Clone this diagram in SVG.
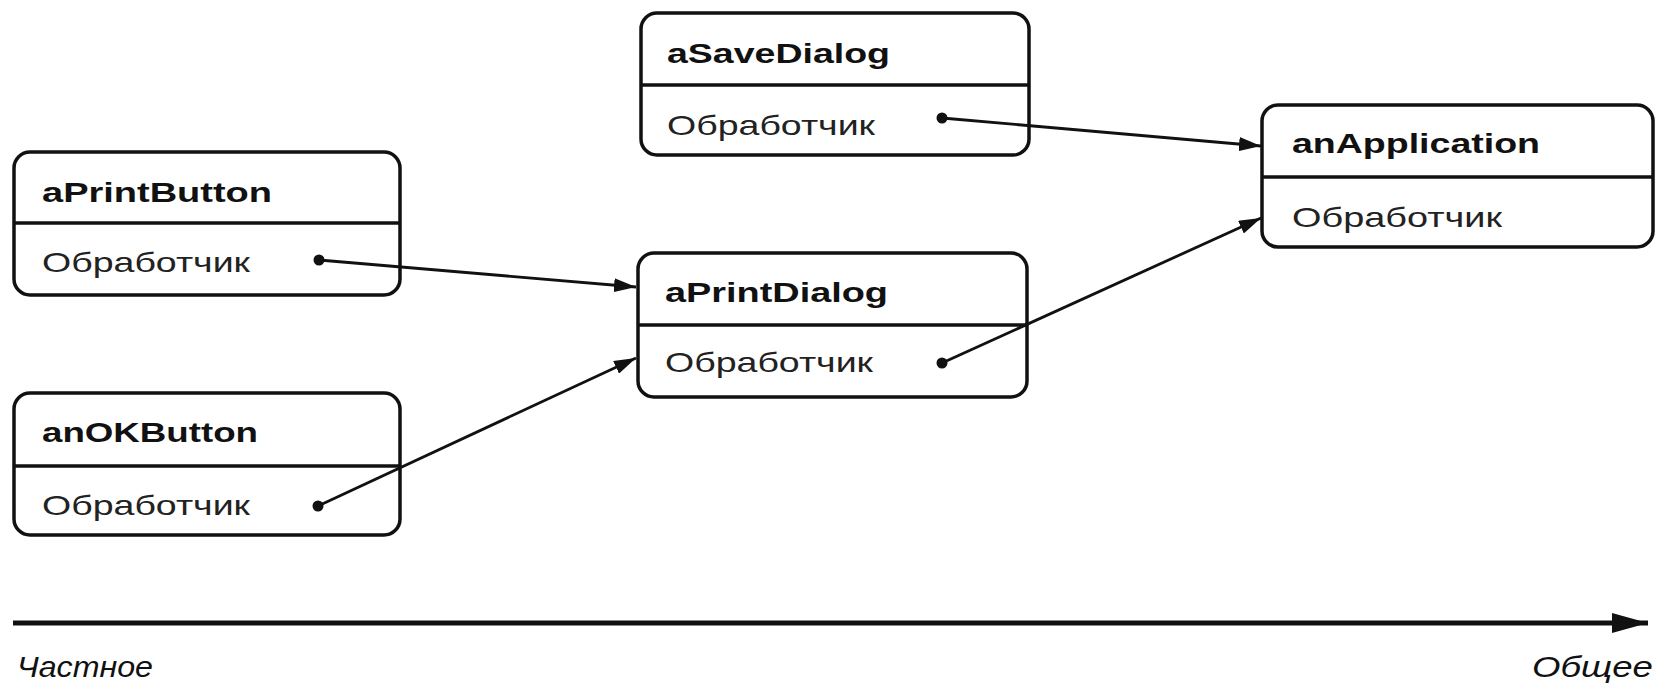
<svg xmlns="http://www.w3.org/2000/svg" width="1671" height="686" viewBox="0 0 1671 686">
<style>
.box{fill:#fff;stroke:#111;stroke-width:3.5}
.div{stroke:#111;stroke-width:3.5}
.title{font-family:"Liberation Sans",Arial,sans-serif;font-weight:bold;font-size:28px;fill:#111}
.sub{font-family:"Liberation Sans",Arial,sans-serif;font-size:28px;fill:#222}
.axl{font-family:"Liberation Sans",Arial,sans-serif;font-style:italic;font-size:30px;fill:#111}
.conn{stroke:#111;stroke-width:2.8;fill:none}
.dot{fill:#111}
</style>
<defs>
<marker id="ah" viewBox="0 0 22 14" refX="22" refY="7" markerWidth="22" markerHeight="14" markerUnits="userSpaceOnUse" orient="auto">
<path d="M0,0 L22,7 L0,14 Z" fill="#111"/>
</marker>
<marker id="axh" viewBox="0 0 36 20" refX="36" refY="10" markerWidth="36" markerHeight="20" markerUnits="userSpaceOnUse" orient="auto">
<path d="M0,0 L36,10 L0,20 Z" fill="#111"/>
</marker>
</defs>
<rect width="1671" height="686" fill="#fff"/>
<g id="aPrintButton">
<rect class="box" x="14" y="152" width="386" height="143" rx="16"/>
<line class="div" x1="14" y1="223" x2="400" y2="223"/>
<text class="title" x="42" y="202" textLength="230" lengthAdjust="spacingAndGlyphs">aPrintButton</text>
<text class="sub" x="42" y="272" textLength="208" lengthAdjust="spacingAndGlyphs">Обработчик</text>
</g>
<g id="anOKButton">
<rect class="box" x="14" y="393" width="386" height="142" rx="16"/>
<line class="div" x1="14" y1="466" x2="400" y2="466"/>
<text class="title" x="42" y="442" textLength="216" lengthAdjust="spacingAndGlyphs">anOKButton</text>
<text class="sub" x="42" y="515" textLength="208" lengthAdjust="spacingAndGlyphs">Обработчик</text>
</g>
<g id="aPrintDialog">
<rect class="box" x="638" y="253" width="389" height="144" rx="16"/>
<line class="div" x1="638" y1="325" x2="1027" y2="325"/>
<text class="title" x="665" y="302" textLength="223" lengthAdjust="spacingAndGlyphs">aPrintDialog</text>
<text class="sub" x="665" y="372" textLength="208" lengthAdjust="spacingAndGlyphs">Обработчик</text>
</g>
<g id="aSaveDialog">
<rect class="box" x="641" y="13" width="388" height="142" rx="16"/>
<line class="div" x1="641" y1="85" x2="1029" y2="85"/>
<text class="title" x="667" y="63" textLength="223" lengthAdjust="spacingAndGlyphs">aSaveDialog</text>
<text class="sub" x="667" y="135" textLength="208" lengthAdjust="spacingAndGlyphs">Обработчик</text>
</g>
<g id="anApplication">
<rect class="box" x="1262" y="105" width="391" height="142" rx="16"/>
<line class="div" x1="1262" y1="177" x2="1653" y2="177"/>
<text class="title" x="1292" y="153" textLength="248" lengthAdjust="spacingAndGlyphs">anApplication</text>
<text class="sub" x="1292" y="227" textLength="210" lengthAdjust="spacingAndGlyphs">Обработчик</text>
</g>
<g id="connectors">
<line class="conn" x1="319" y1="260" x2="636" y2="287" marker-end="url(#ah)"/>
<circle class="dot" cx="319" cy="260" r="5.5"/>
<line class="conn" x1="318" y1="506" x2="636" y2="358" marker-end="url(#ah)"/>
<circle class="dot" cx="318" cy="506" r="5.5"/>
<line class="conn" x1="942" y1="363" x2="1261" y2="218" marker-end="url(#ah)"/>
<circle class="dot" cx="942" cy="363" r="5.5"/>
<line class="conn" x1="942" y1="118" x2="1261" y2="146" marker-end="url(#ah)"/>
<circle class="dot" cx="942" cy="118" r="5.5"/>
</g>
<g id="axis">
<line x1="13" y1="623" x2="1648" y2="623" stroke="#111" stroke-width="5" marker-end="url(#axh)"/>
<text class="axl" x="17" y="677" textLength="136" lengthAdjust="spacingAndGlyphs">Частное</text>
<text class="axl" x="1532" y="677" textLength="121" lengthAdjust="spacingAndGlyphs">Общее</text>
</g>
</svg>
